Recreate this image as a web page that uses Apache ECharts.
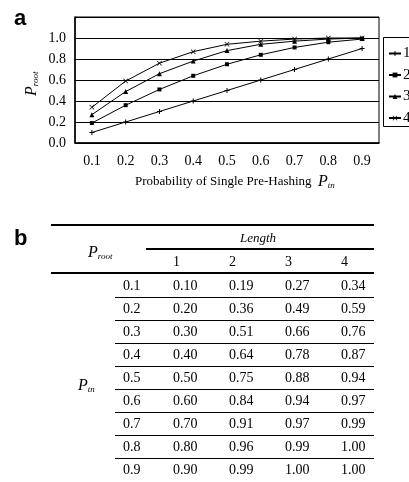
<!DOCTYPE html>
<html>
<head>
<meta charset="utf-8">
<script src="https://cdn.jsdelivr.net/npm/echarts@6/dist/echarts.min.js"></script>
<style>
  html, body { margin: 0; padding: 0; background: #fff; }
  #main { width: 409px; height: 482px; }
</style>
</head>
<body>
<div id="main"></div>
<script>
// P_tn values (x categories / table rows)
const ptn = ["0.1", "0.2", "0.3", "0.4", "0.5", "0.6", "0.7", "0.8", "0.9"];
// P_root for each length
const len1 = [0.10, 0.20, 0.30, 0.40, 0.50, 0.60, 0.70, 0.80, 0.90];
const len2 = [0.19, 0.36, 0.51, 0.64, 0.75, 0.84, 0.91, 0.96, 0.99];
const len3 = [0.27, 0.49, 0.66, 0.78, 0.88, 0.94, 0.97, 0.99, 1.00];
const len4 = [0.34, 0.59, 0.76, 0.87, 0.94, 0.97, 0.99, 1.00, 1.00];
const lengths = ["1", "2", "3", "4"];
const yTicks = ["0.0", "0.2", "0.4", "0.6", "0.8", "1.0"];

const serif = "Liberation Serif";
const symbols = [
  "path://M4,0H6V4H10V6H6V10H4V6H0V4H4Z",
  "rect",
  "triangle",
  "path://M1,0L5,4L9,0L10,1L6,5L10,9L9,10L5,6L1,10L0,9L4,5L0,1Z"
];
const sizes = [5, 4, 5, 5];

const chart = echarts.init(document.getElementById("main"));

const graphics = [];
// text centred vertically on y
const txt = (x, y, text, extra) => graphics.push({
  type: "text",
  style: Object.assign({ x: x, y: y, text: text, font: "14px " + serif, fill: "#000", verticalAlign: "middle" }, extra || {})
});
const hline = (x1, x2, y, w) => graphics.push({
  type: "line", shape: { x1: x1, y1: y, x2: x2, y2: y },
  style: { stroke: "#000", lineWidth: w }
});
const subRich = {
  p: { font: "italic 16px " + serif, fill: "#000" },
  s: { font: "italic 9px " + serif, fill: "#000", padding: [8, 0, 0, 0] }
};

// panel letters
txt(14, 19, "a", { font: "bold 22px 'Liberation Sans'" });
txt(14, 239, "b", { font: "bold 22px 'Liberation Sans'" });

// legend frame (runs off the right edge, like the original)
graphics.push({
  type: "rect", shape: { x: 383.5, y: 37.5, width: 40, height: 89 },
  style: { fill: "none", stroke: "#000", lineWidth: 1 }
});

// x axis title
graphics.push({
  type: "text",
  style: {
    x: 135, y: 182, verticalAlign: "middle",
    rich: Object.assign({ t: { font: "13px " + serif, fill: "#000" } }, subRich),
    text: "{t|Probability of Single Pre-Hashing  }{p|P}{s|tn}"
  }
});
// y axis title
graphics.push({
  type: "text", x: 32, y: 96, rotation: Math.PI / 2,
  style: { x: 0, y: 0, verticalAlign: "middle", rich: subRich, text: "{p|P}{s|root}" }
});

// table
const tableX1 = 51, tableX2 = 374;
const colX = [173, 229, 285, 341];
const rowY0 = 286, rowH = 23;
hline(tableX1, tableX2, 225, 2);
txt(240, 239, "Length", { font: "italic 13px " + serif });
hline(146, tableX2, 249, 2);
lengths.forEach((l, i) => txt(colX[i], 262, l));
hline(tableX1, tableX2, 273, 2);
graphics.push({
  type: "text",
  style: { x: 88, y: 253, verticalAlign: "middle", rich: subRich, text: "{p|P}{s|root}" }
});
graphics.push({
  type: "text",
  style: { x: 78, y: 386, verticalAlign: "middle", rich: subRich, text: "{p|P}{s|tn}" }
});
const series = [len1, len2, len3, len4];
ptn.forEach((p, r) => {
  const y = rowY0 + r * rowH;
  txt(123, y, p);
  series.forEach((s, c) => txt(colX[c], y, s[r].toFixed(2)));
  if (r < ptn.length - 1) hline(115, tableX2, y + 11.5, 1);
});

chart.setOption({
  animation: false,
  backgroundColor: "#fff",
  textStyle: { fontFamily: serif, color: "#000" },
  grid: {
    left: 75, right: 30, top: 17, bottom: 339,
    show: true, borderColor: "#000", borderWidth: 1
  },
  legend: {
    orient: "vertical",
    left: 383, top: 37,
    padding: [9, 0, 0, 5],
    itemWidth: 12, itemHeight: 6, itemGap: 6.5,
    textStyle: { fontFamily: serif, fontSize: 15, color: "#000", padding: [0, 0, 0, -3] },
    data: lengths
  },
  xAxis: {
    type: "category",
    data: ptn,
    boundaryGap: true,
    axisLine: { lineStyle: { color: "#000", width: 1.5 } },
    axisTick: { inside: true, length: 5, lineStyle: { color: "#000" } },
    axisLabel: { fontFamily: serif, fontSize: 14, color: "#000", margin: 11 }
  },
  yAxis: {
    type: "value",
    min: 0, max: 1.2, interval: 0.2,
    axisLine: { show: true, lineStyle: { color: "#000", width: 1.5 } },
    axisTick: { show: false },
    splitLine: { lineStyle: { color: "#000", width: 1 } },
    axisLabel: {
      fontFamily: serif, fontSize: 14, color: "#000", margin: 9,
      formatter: (v) => { const s = v.toFixed(1); return yTicks.indexOf(s) >= 0 ? s : ""; }
    }
  },
  series: series.map((d, i) => ({
    name: lengths[i],
    type: "line",
    data: d,
    symbol: symbols[i],
    symbolSize: sizes[i],
    showAllSymbol: true,
    lineStyle: { color: "#000", width: 1 },
    itemStyle: { color: "#000" }
  })),
  graphic: graphics
});
</script>
</body>
</html>
